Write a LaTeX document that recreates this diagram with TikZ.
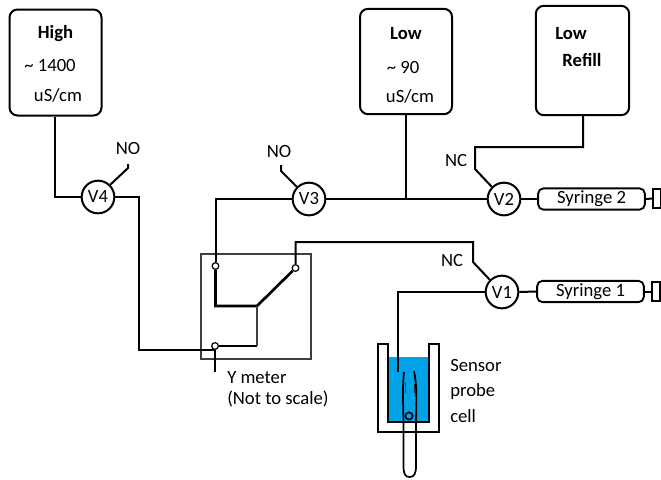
\documentclass[tikz,border=0pt]{standalone}
\usepackage{fontspec}
\setmainfont{Carlito}
\usetikzlibrary{calc}
\tikzset{
 x=0.75pt,y=-0.75pt,
 wire/.style={line width=1.5pt,black},
 tank/.style={draw=black,line width=1.5pt,rounded corners=6pt,minimum width=69pt,inner sep=0pt,fill=white},
 valve/.style={circle,draw=black,line width=1.5pt,minimum size=24.5pt,inner sep=0pt,fill=white,font=\fontsize{14}{14}\selectfont},
 syr/.style={draw=black,line width=1.4pt,rounded corners=4pt,minimum width=80pt,minimum height=16pt,inner sep=0pt,fill=white,font=\fontsize{14}{14}\selectfont},
 plunger/.style={draw=black,line width=1.3pt,minimum width=5.5pt,minimum height=14.5pt,inner sep=0pt,fill=white},
 term/.style={circle,draw=black,line width=0.9pt,minimum size=5pt,inner sep=0pt,fill=white},
 lab/.style={inner sep=0pt,font=\fontsize{14}{16}\selectfont},
 blab/.style={lab,font=\fontsize{14}{16}\selectfont\bfseries},
}
\begin{document}
\begin{tikzpicture}
\useasboundingbox (0,0) rectangle (661,479);
% Y meter
\node[draw=black!75,line width=0.8pt,minimum width=82.5pt,minimum height=78.75pt,inner sep=0pt] (ymeter) at (256,306.5) {};
% tanks
\node[tank,minimum height=79.5pt] (high) at (55.5,62.5) {};
\node[tank,minimum height=79pt] (low) at (406,61.5) {};
\node[tank,minimum width=70pt,minimum height=82pt] (refill) at (582.5,60.5) {};
% valves
\node[valve] (v4) at (98,197) {V4};
\node[valve] (v3) at (309,199) {V3};
\node[valve] (v2) at (504,199) {V2};
\node[valve] (v1) at (502,292) {V1};
% syringes
\node[syr] (s2) at (591.5,199) {Syringe 2};
\node[syr] (s1) at (590.5,291.5) {Syringe 1};
\node[plunger] (p2) at (657,198.5) {};
\node[plunger] (p1) at (656,291.5) {};
% terminals
\node[term] (ta) at (215.5,266) {};
\node[term] (tb) at (295.5,268) {};
\node[term] (tc) at (215,346) {};
\coordinate (junc) at (257,306);
\coordinate (no4) at (128,164);
\coordinate (no3) at (281,165);
% sensor cell
\fill[fill=white] (378,344) -- (378,432) -- (439,432) -- (439,344) -- (428,344) -- (428,422) -- (388,422) -- (388,344) -- cycle;
\fill[fill={rgb,255:red,0;green,162;blue,232}] (388,357) rectangle (429,422);
\draw[line width=1.5pt,black] (378,344) -- (378,432) -- (439,432) -- (439,344) -- (429,344) -- (429,422) -- (388,422) -- (388,344) -- cycle;
\draw[line width=1.3pt,black] (404,372) .. controls (402.5,385) and (403,400) .. (403.5,420) -- (403.5,466) .. controls (403.5,474) and (405,477) .. (409.5,477) .. controls (414,477) and (416,474) .. (416,466) -- (416,420) .. controls (416.5,400) and (417,385) .. (414,371);
\draw[line width=1.3pt,black!80] (405.5,382) -- (405.5,393) (414.5,384) -- (414.5,393);
\node[circle,draw=black,line width=1.2pt,minimum size=5.5pt,inner sep=0pt] (bead) at (409,416) {};
\coordinate (probein) at (398,372);
% wires
\draw[wire] (high.south -| 55,0) |- (v4.west);
\draw[wire] (v4.east) -- (139,197) |- (tc.south);
\draw[wire] (215,372) -- (tc.south);
\draw[wire] (v4.45) -- (128,168) -- (no4);
\draw[wire] (v3.135) -- (281,171) -- (no3);
\draw[wire] (v3.west) -| (ta.north);
\draw[wire] (v3.east) -- (v2.west);
\draw[wire] (low.south) -- (406,199);
\draw[wire] (v2.135) -- (475,169) -- (475,147) -- (583,147) -- (refill.south -| 583,0);
\draw[wire] (v2.east) -- (s2.west);
\draw[wire] (s2.east) -- (p2.west);
\draw[wire] (v1.east) -- (s1.west);
\draw[wire] (s1.east) -- (p1.west);
\draw[wire] (v1.135) -- (473,262) -- (473,242) -- (295.5,242) -- (tb.north);
\draw[wire] (v1.west) -- (398,292) -- (probein);
\draw[line width=2pt,black] (ta.south) -- (215.5,306) -- (junc) -- (tb.225);
\draw[line width=2pt,black] (tc.east) -- (257,346);
\draw[line width=0.8pt,black!75] (junc) -- (257,346);
% labels
\node[blab] (t1) at (55.5,34) {High};
\node[lab] (t2) at (50,66) {\textasciitilde{} 1400};
\node[lab] (t3) at (58,95) {uS/cm};
\node[blab] (t4) at (406,34) {Low};
\node[lab] (t5) at (403,68) {\textasciitilde{} 90};
\node[lab] (t6) at (410,96) {uS/cm};
\node[blab] (t7) at (571,34) {Low};
\node[blab] (t8) at (582,60) {Refill};
\node[lab] (t9) at (128,149) {NO};
\node[lab] (t10) at (279,152) {NO};
\node[lab] (t11) at (456,161) {NC};
\node[lab] (t12) at (452,261) {NC};
\node[lab,align=left,anchor=west] (t13) at (450,391) {Sensor\\[3pt]probe\\[3pt]cell};
\node[lab,align=left,anchor=west] (t14) at (227,389) {Y meter\\(Not to scale)};
\end{tikzpicture}
\end{document}
